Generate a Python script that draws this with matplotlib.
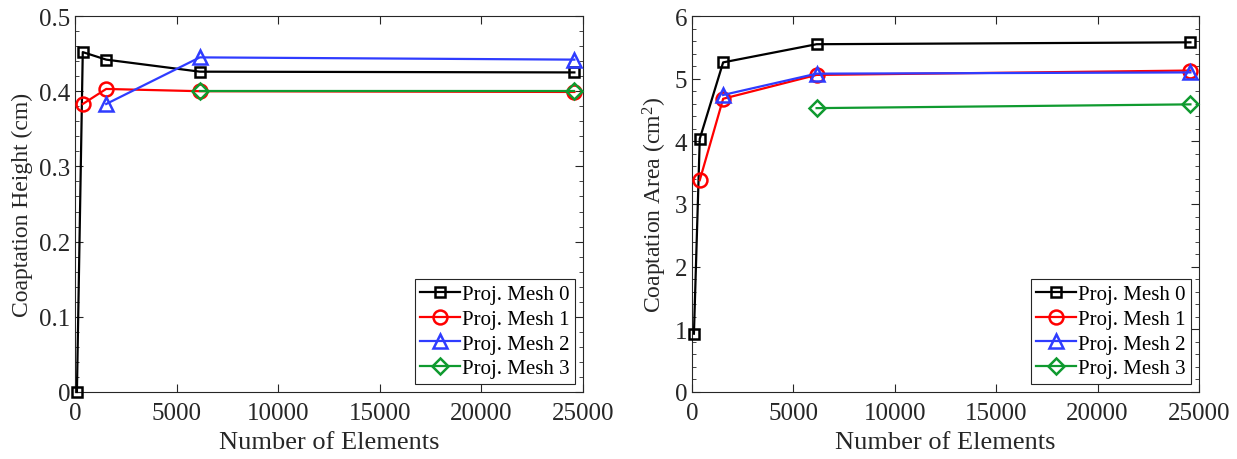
import matplotlib
matplotlib.use("Agg")
import matplotlib.pyplot as plt
from matplotlib.ticker import MultipleLocator, FuncFormatter

plt.rcParams["font.family"] = ["Liberation Serif", "DejaVu Serif"]
plt.rcParams["mathtext.fontset"] = "custom"
plt.rcParams["mathtext.rm"] = "Liberation Serif"
plt.rcParams["mathtext.it"] = "Liberation Serif:italic"

# element counts per refinement level
elements = [96, 384, 1536, 6144, 24576]

labels = ["Proj. Mesh 0", "Proj. Mesh 1", "Proj. Mesh 2", "Proj. Mesh 3"]

# coaptation height (cm), each projected mesh starts at its own level
height_mesh0 = [0.0, 0.452, 0.442, 0.426, 0.425]
height_mesh1 = [0.383, 0.403, 0.400, 0.399]
height_mesh2 = [0.383, 0.445, 0.442]
height_mesh3 = [0.400, 0.400]

# coaptation area (cm^2)
area_mesh0 = [0.93, 4.04, 5.26, 5.55, 5.58]
area_mesh1 = [3.38, 4.68, 5.06, 5.13]
area_mesh2 = [4.74, 5.08, 5.10]
area_mesh3 = [4.53, 4.59]

colors = ["black", "#ff0000", "#2f3cff", "#0f9a2f"]
markers = ["s", "o", "^", "D"]
msizes = [7, 10, 10, 8]

fig = plt.figure(figsize=(12.37, 4.6), dpi=100)
ax1 = fig.add_axes([0.0606, 0.1457, 0.4107, 0.8173])
ax2 = fig.add_axes([0.5594, 0.1457, 0.4099, 0.8173])


def draw(ax, series, ylabel, ymax, minor, fmt):
    for i, vals in enumerate(series):
        xs = elements[len(elements) - len(vals):]
        ax.plot(xs, vals, color=colors[i], marker=markers[i],
                markersize=msizes[i], markerfacecolor="none",
                markeredgewidth=1.8, linewidth=1.6, label=labels[i],
                clip_on=False, zorder=3)
    ax.set_xlim(0, 25000)
    ax.set_ylim(0, ymax)
    ax.xaxis.set_major_locator(MultipleLocator(5000))
    ax.yaxis.set_minor_locator(MultipleLocator(minor))
    ax.yaxis.set_major_formatter(FuncFormatter(fmt))
    ax.tick_params(direction="in", top=True, right=True, which="both",
                   labelsize=18, colors="#262626", labelcolor="#262626")
    ax.tick_params(which="major", length=6)
    ax.tick_params(which="minor", length=3)
    ax.tick_params(axis="x", pad=7)
    for s in ax.spines.values():
        s.set_color("#262626")
        s.set_linewidth(0.8)
    ax.set_xlabel("Number of Elements", fontsize=19, color="#262626",
                  labelpad=5)
    ax.set_ylabel(ylabel, fontsize=17, color="#262626")
    leg = ax.legend(loc="lower right", fontsize=15, handlelength=1.9,
                    handletextpad=0.1, labelspacing=0.25, borderpad=0.25,
                    fancybox=False, framealpha=1, borderaxespad=0.4)
    leg.get_frame().set_edgecolor("#262626")
    leg.get_frame().set_linewidth(0.8)


draw(ax1, [height_mesh0, height_mesh1, height_mesh2, height_mesh3],
     "Coaptation Height (cm)", 0.5, 0.02,
     lambda v, p: "0" if abs(v) < 1e-9 else f"{v:.1f}")
draw(ax2, [area_mesh0, area_mesh1, area_mesh2, area_mesh3],
     "Coaptation Area (cm$^{2}$)", 6, 0.2,
     lambda v, p: f"{v:.0f}")

fig.savefig("out.png", dpi=100)
